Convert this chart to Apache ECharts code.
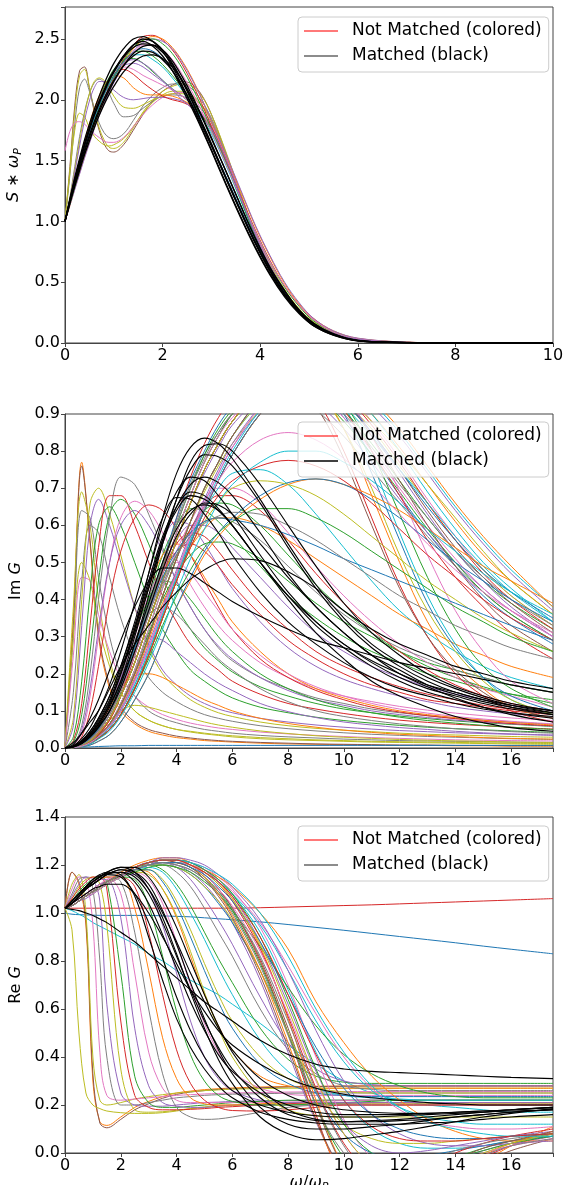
<!DOCTYPE html>
<html><head><meta charset="utf-8">
<script src="https://cdn.jsdelivr.net/npm/echarts/dist/echarts.min.js"></script>
<style>html,body{margin:0;padding:0;background:#fff}#c{width:567px;height:1185px}</style>
</head><body><div id="c"></div>
<script>
const palette = ['#1f77b4','#ff7f0e','#2ca02c','#d62728','#9467bd','#8c564b','#e377c2','#7f7f7f','#bcbd22','#17becf'];

// ---------- Panel 1: S*omega_P ----------
const xS = [0,0.1,0.2,0.3,0.4,0.5,0.6,0.7,0.8,0.9,1.0,1.2,1.4,1.6,1.8,2.0,2.2,2.4,2.6,2.8,3.0,3.3,3.6,3.9,4.2,4.5,4.8,5.1,5.5,6,7,8,10];
const sColored = [
 [1.0,1.45,1.95,2.24,2.27,2.1,1.9,1.75,1.64,1.58,1.57,1.63,1.75,1.88,1.99,2.07,2.12,2.15,2.13,2.04,1.88,1.56,1.22,0.9,0.64,0.43,0.27,0.16,0.08,0.03,0.005,0.001,0],
 [1.0,1.42,1.9,2.2,2.25,2.1,1.92,1.77,1.67,1.61,1.6,1.65,1.77,1.9,2.0,2.07,2.11,2.13,2.11,2.03,1.88,1.57,1.23,0.91,0.65,0.44,0.28,0.17,0.085,0.03,0.005,0.001,0],
 [1.0,1.38,1.8,2.1,2.17,2.07,1.93,1.81,1.73,1.69,1.68,1.72,1.83,1.95,2.04,2.1,2.13,2.13,2.09,1.99,1.85,1.55,1.21,0.9,0.64,0.43,0.27,0.16,0.08,0.03,0.005,0.001,0],
 [1.0,1.4,1.75,1.89,1.86,1.77,1.7,1.66,1.63,1.62,1.63,1.68,1.78,1.89,1.98,2.04,2.07,2.07,2.04,1.96,1.84,1.55,1.22,0.91,0.65,0.44,0.28,0.17,0.08,0.03,0.005,0.001,0],
 [1.58,1.74,1.81,1.82,1.8,1.76,1.72,1.69,1.66,1.65,1.65,1.69,1.78,1.88,1.96,2.02,2.05,2.06,2.03,1.95,1.83,1.54,1.21,0.9,0.64,0.43,0.27,0.16,0.08,0.03,0.005,0.001,0],
 [1.0,1.2,1.45,1.7,1.9,2.05,2.14,2.17,2.14,2.06,1.97,1.86,1.87,1.93,1.99,2.03,2.04,2.03,1.99,1.92,1.81,1.54,1.21,0.9,0.64,0.43,0.27,0.16,0.08,0.03,0.005,0.001,0],
 [1.0,1.19,1.42,1.66,1.88,2.05,2.15,2.18,2.16,2.1,2.03,1.94,1.93,1.96,2.0,2.03,2.05,2.05,2.02,1.95,1.83,1.55,1.22,0.9,0.64,0.43,0.27,0.16,0.08,0.03,0.005,0.001,0],
 [1.0,1.18,1.4,1.62,1.83,1.99,2.1,2.15,2.15,2.12,2.08,2.02,2.0,2.01,2.02,2.02,2.01,1.99,1.95,1.88,1.78,1.52,1.2,0.89,0.63,0.43,0.27,0.16,0.08,0.03,0.005,0.001,0],
 [1.0,1.16,1.33,1.5,1.66,1.8,1.93,2.03,2.12,2.17,2.2,2.18,2.1,2.05,2.04,2.04,2.03,2.0,1.95,1.87,1.77,1.52,1.2,0.89,0.63,0.43,0.27,0.16,0.08,0.03,0.005,0.001,0],
 [1.0,1.16,1.32,1.48,1.63,1.77,1.9,2.01,2.1,2.17,2.22,2.25,2.21,2.14,2.08,2.03,2.0,1.98,1.94,1.87,1.77,1.52,1.2,0.89,0.63,0.43,0.27,0.16,0.08,0.03,0.005,0.001,0],
 [1.0,1.16,1.32,1.47,1.62,1.76,1.89,2.0,2.1,2.18,2.25,2.33,2.34,2.3,2.23,2.16,2.09,2.03,1.96,1.87,1.76,1.5,1.19,0.88,0.63,0.43,0.27,0.16,0.08,0.03,0.005,0.001,0],
 [1.0,1.16,1.32,1.47,1.61,1.74,1.86,1.97,2.07,2.15,2.22,2.32,2.37,2.37,2.33,2.27,2.18,2.08,1.97,1.85,1.72,1.46,1.17,0.88,0.63,0.43,0.27,0.16,0.08,0.03,0.005,0.001,0],
 [1.0,1.15,1.31,1.46,1.6,1.74,1.87,1.98,2.07,2.15,2.21,2.28,2.3,2.27,2.21,2.15,2.09,2.03,1.97,1.89,1.79,1.53,1.21,0.9,0.64,0.43,0.27,0.16,0.08,0.03,0.005,0.001,0],
 [1.0,1.15,1.31,1.46,1.61,1.75,1.88,1.99,2.08,2.16,2.22,2.27,2.25,2.2,2.16,2.12,2.08,2.03,1.97,1.89,1.79,1.53,1.21,0.9,0.64,0.43,0.27,0.16,0.08,0.03,0.005,0.001,0],
 [1.0,1.15,1.3,1.44,1.58,1.71,1.83,1.94,2.04,2.13,2.2,2.32,2.39,2.4,2.36,2.29,2.2,2.1,1.99,1.87,1.74,1.48,1.18,0.88,0.63,0.43,0.27,0.16,0.08,0.03,0.005,0.001,0],
 [1.0,1.14,1.28,1.42,1.55,1.68,1.8,1.91,2.01,2.1,2.18,2.33,2.45,2.52,2.53,2.49,2.41,2.29,2.14,1.97,1.78,1.5,1.21,0.93,0.68,0.47,0.31,0.19,0.09,0.035,0.006,0.001,0],
 [1.0,1.13,1.27,1.4,1.53,1.65,1.77,1.88,1.98,2.07,2.15,2.3,2.42,2.49,2.52,2.5,2.43,2.32,2.18,2.01,1.82,1.54,1.25,0.96,0.71,0.49,0.32,0.2,0.1,0.038,0.007,0.001,0],
 [1.0,1.13,1.26,1.39,1.52,1.64,1.76,1.87,1.97,2.06,2.14,2.28,2.4,2.47,2.5,2.48,2.42,2.31,2.17,2.01,1.83,1.55,1.26,0.97,0.72,0.5,0.33,0.2,0.1,0.04,0.007,0.001,0],
 [1.0,1.14,1.28,1.42,1.55,1.67,1.79,1.9,2.0,2.09,2.17,2.32,2.43,2.49,2.5,2.46,2.38,2.26,2.11,1.94,1.76,1.48,1.19,0.92,0.67,0.46,0.3,0.18,0.09,0.034,0.006,0.001,0],
 [1.0,1.16,1.31,1.46,1.6,1.73,1.85,1.95,2.04,2.12,2.19,2.31,2.39,2.42,2.4,2.34,2.24,2.11,1.96,1.8,1.63,1.37,1.1,0.84,0.61,0.42,0.27,0.16,0.075,0.022,0.003,0,0],
 [1.0,1.15,1.3,1.44,1.57,1.69,1.8,1.91,2.0,2.08,2.16,2.29,2.39,2.45,2.45,2.41,2.33,2.21,2.07,1.91,1.74,1.47,1.19,0.92,0.67,0.47,0.31,0.19,0.09,0.035,0.006,0.001,0],
 [1.0,1.16,1.32,1.47,1.61,1.75,1.88,1.99,2.08,2.16,2.23,2.3,2.33,2.3,2.24,2.16,2.08,2.0,1.93,1.85,1.76,1.51,1.2,0.89,0.63,0.43,0.27,0.16,0.08,0.03,0.005,0.001,0]
];
const sColoredColor = [5,8,7,8,6,7,8,4,1,3,2,9,4,6,2,3,1,4,2,0,6,4];
const sBlack = [
 [1.0,1.17,1.33,1.48,1.62,1.75,1.87,1.97,2.06,2.15,2.23,2.36,2.45,2.5,2.48,2.41,2.3,2.16,2.0,1.82,1.64,1.36,1.09,0.83,0.6,0.41,0.26,0.15,0.07,0.02,0.003,0,0],
 [1.0,1.18,1.35,1.5,1.64,1.77,1.89,1.99,2.08,2.17,2.24,2.36,2.45,2.48,2.44,2.36,2.24,2.09,1.93,1.76,1.58,1.3,1.03,0.78,0.56,0.38,0.24,0.14,0.065,0.018,0.002,0,0],
 [1.0,1.15,1.3,1.44,1.57,1.69,1.8,1.9,1.99,2.07,2.15,2.28,2.38,2.44,2.45,2.41,2.32,2.19,2.04,1.87,1.69,1.41,1.13,0.86,0.62,0.43,0.27,0.16,0.075,0.022,0.003,0,0],
 [1.0,1.16,1.31,1.46,1.59,1.71,1.82,1.92,2.01,2.09,2.16,2.28,2.36,2.4,2.39,2.33,2.24,2.11,1.96,1.79,1.62,1.35,1.08,0.82,0.59,0.4,0.25,0.15,0.07,0.02,0.003,0,0],
 [1.0,1.15,1.29,1.42,1.55,1.66,1.77,1.87,1.96,2.04,2.11,2.23,2.31,2.36,2.37,2.34,2.27,2.16,2.02,1.86,1.68,1.41,1.13,0.86,0.62,0.43,0.27,0.16,0.075,0.022,0.003,0,0],
 [1.0,1.18,1.36,1.52,1.67,1.8,1.92,2.03,2.13,2.22,2.3,2.42,2.5,2.52,2.48,2.4,2.27,2.12,1.95,1.77,1.59,1.31,1.04,0.79,0.57,0.39,0.25,0.14,0.065,0.018,0.002,0,0],
 [1.0,1.17,1.34,1.49,1.63,1.76,1.88,1.98,2.07,2.16,2.23,2.35,2.43,2.46,2.45,2.39,2.29,2.15,1.99,1.81,1.63,1.35,1.08,0.82,0.59,0.4,0.25,0.15,0.07,0.02,0.003,0,0]
];

// ---------- Panel 2: Im G ----------
const xI = [0,0.3,0.6,0.9,1.2,1.6,2,2.5,3,3.5,4,4.5,5,5.5,6,7,8,9,10,11,12,13,14,15,16,17.5];
const imColored = [
 [0,0.35,0.77,0.55,0.3,0.16,0.1,0.065,0.045,0.035,0.028,0.024,0.02,0.018,0.016,0.013,0.011,0.01,0.009,0.008,0.007,0.007,0.006,0.006,0.005,0.005],
 [0,0.33,0.76,0.56,0.31,0.17,0.11,0.07,0.05,0.04,0.032,0.027,0.023,0.02,0.018,0.015,0.013,0.011,0.01,0.009,0.008,0.008,0.007,0.007,0.006,0.006],
 [0,0.38,0.69,0.6,0.4,0.24,0.15,0.1,0.075,0.06,0.05,0.043,0.038,0.034,0.03,0.025,0.022,0.02,0.018,0.016,0.015,0.014,0.013,0.012,0.011,0.01],
 [0,0.3,0.64,0.62,0.46,0.3,0.2,0.14,0.1,0.08,0.068,0.058,0.05,0.045,0.04,0.034,0.03,0.027,0.024,0.022,0.02,0.019,0.018,0.017,0.016,0.015],
 [0,0.3,0.5,0.45,0.33,0.22,0.15,0.1,0.075,0.06,0.05,0.045,0.04,0.036,0.033,0.028,0.025,0.022,0.02,0.018,0.017,0.016,0.015,0.014,0.013,0.012],
 [0,0.25,0.46,0.45,0.36,0.26,0.19,0.14,0.11,0.09,0.077,0.067,0.06,0.054,0.05,0.043,0.038,0.034,0.031,0.028,0.026,0.024,0.022,0.021,0.02,0.019],
 [0,0.15,0.45,0.6,0.58,0.46,0.35,0.25,0.19,0.15,0.125,0.105,0.09,0.08,0.072,0.06,0.052,0.046,0.041,0.037,0.034,0.031,0.029,0.027,0.025,0.023],
 [0,0.08,0.4,0.66,0.7,0.63,0.52,0.38,0.27,0.2,0.16,0.13,0.11,0.095,0.085,0.07,0.06,0.053,0.048,0.044,0.04,0.037,0.035,0.033,0.031,0.029],
 [0,0.06,0.33,0.6,0.67,0.6,0.5,0.38,0.28,0.21,0.17,0.14,0.12,0.105,0.095,0.08,0.07,0.062,0.056,0.051,0.047,0.044,0.041,0.039,0.037,0.034],
 [0,0.03,0.18,0.42,0.6,0.65,0.6,0.5,0.4,0.32,0.26,0.21,0.18,0.155,0.135,0.11,0.095,0.083,0.074,0.067,0.061,0.056,0.052,0.049,0.046,0.042],
 [0,0.02,0.12,0.33,0.54,0.68,0.68,0.6,0.5,0.41,0.34,0.28,0.24,0.21,0.18,0.145,0.12,0.105,0.093,0.083,0.075,0.069,0.064,0.06,0.056,0.051],
 [0,0.015,0.09,0.26,0.45,0.63,0.67,0.63,0.55,0.46,0.38,0.32,0.27,0.235,0.205,0.165,0.14,0.12,0.105,0.095,0.086,0.079,0.073,0.068,0.064,0.058],
 [0,0.01,0.06,0.2,0.4,0.62,0.73,0.71,0.63,0.54,0.45,0.38,0.32,0.27,0.235,0.19,0.16,0.135,0.12,0.105,0.095,0.087,0.08,0.075,0.07,0.064],
 [0,0.008,0.04,0.14,0.3,0.5,0.62,0.665,0.64,0.58,0.51,0.44,0.38,0.33,0.29,0.23,0.19,0.16,0.14,0.125,0.112,0.102,0.094,0.087,0.081,0.074],
 [0,0.01,0.05,0.16,0.32,0.5,0.6,0.64,0.6,0.53,0.45,0.38,0.32,0.275,0.24,0.19,0.155,0.13,0.115,0.1,0.09,0.082,0.075,0.07,0.065,0.059],
 [0,0.005,0.03,0.1,0.22,0.4,0.53,0.62,0.655,0.64,0.59,0.52,0.45,0.38,0.32,0.24,0.19,0.155,0.13,0.11,0.097,0.087,0.079,0.072,0.066,0.06],
 [0,0.001,0.005,0.015,0.035,0.08,0.15,0.27,0.4,0.52,0.6,0.645,0.64,0.61,0.57,0.49,0.41,0.35,0.3,0.26,0.23,0.2,0.18,0.16,0.145,0.13],
 [0,0.002,0.008,0.02,0.045,0.1,0.18,0.31,0.45,0.56,0.61,0.6,0.55,0.49,0.43,0.34,0.27,0.22,0.185,0.16,0.14,0.125,0.11,0.1,0.092,0.083],
 [0,0.002,0.01,0.025,0.055,0.11,0.2,0.32,0.43,0.52,0.55,0.52,0.46,0.4,0.34,0.26,0.2,0.16,0.135,0.115,0.1,0.09,0.082,0.075,0.069,0.062],
 [0,0.001,0.006,0.016,0.036,0.075,0.14,0.25,0.37,0.47,0.55,0.58,0.57,0.53,0.48,0.39,0.32,0.26,0.22,0.19,0.165,0.145,0.13,0.115,0.105,0.095],
 [0,0.002,0.01,0.026,0.055,0.11,0.19,0.3,0.41,0.48,0.5,0.47,0.42,0.37,0.32,0.25,0.2,0.165,0.14,0.12,0.105,0.094,0.085,0.078,0.072,0.065],
 [0,0.002,0.011,0.028,0.058,0.115,0.2,0.31,0.4,0.45,0.44,0.4,0.35,0.3,0.26,0.2,0.16,0.13,0.11,0.095,0.083,0.074,0.067,0.061,0.056,0.05],
 [0,0.002,0.011,0.028,0.058,0.115,0.19,0.29,0.36,0.38,0.36,0.32,0.28,0.24,0.21,0.16,0.125,0.1,0.085,0.074,0.065,0.058,0.052,0.048,0.044,0.04],
 [0,0.002,0.012,0.03,0.06,0.12,0.19,0.26,0.3,0.29,0.26,0.23,0.2,0.175,0.155,0.12,0.098,0.082,0.07,0.062,0.055,0.05,0.045,0.041,0.038,0.035],
 [0,0.002,0.012,0.03,0.06,0.11,0.16,0.195,0.2,0.19,0.17,0.15,0.13,0.115,0.1,0.08,0.066,0.056,0.048,0.042,0.037,0.034,0.031,0.028,0.026,0.024],
 [0,0.002,0.01,0.025,0.045,0.075,0.1,0.115,0.11,0.1,0.09,0.08,0.07,0.062,0.056,0.046,0.039,0.033,0.029,0.026,0.023,0.021,0.019,0.018,0.016,0.015],
 [0,0.001,0.002,0.003,0.004,0.005,0.006,0.006,0.007,0.007,0.007,0.007,0.007,0.007,0.007,0.007,0.007,0.007,0.007,0.007,0.007,0.007,0.007,0.007,0.007,0.007],
 [0,0.001,0.005,0.014,0.03,0.065,0.12,0.21,0.31,0.4,0.47,0.52,0.55,0.555,0.55,0.51,0.45,0.39,0.34,0.3,0.26,0.23,0.21,0.19,0.17,0.15],
 [0,0.001,0.006,0.016,0.035,0.075,0.14,0.25,0.37,0.47,0.53,0.55,0.53,0.49,0.44,0.36,0.29,0.24,0.2,0.17,0.15,0.13,0.12,0.11,0.1,0.09],
 [0,0.001,0.005,0.014,0.03,0.065,0.12,0.21,0.32,0.43,0.52,0.59,0.64,0.66,0.655,0.6,0.52,0.44,0.37,0.31,0.26,0.22,0.19,0.165,0.145,0.12],
 [0,0.001,0.005,0.014,0.03,0.065,0.12,0.21,0.32,0.43,0.53,0.61,0.67,0.7,0.7,0.66,0.58,0.49,0.41,0.34,0.28,0.23,0.19,0.16,0.14,0.11],
 [0,0.002,0.008,0.02,0.04,0.08,0.14,0.23,0.34,0.44,0.52,0.58,0.61,0.62,0.61,0.56,0.49,0.42,0.36,0.31,0.27,0.24,0.21,0.19,0.17,0.15],
 [0,0.002,0.009,0.022,0.045,0.09,0.16,0.27,0.39,0.49,0.56,0.6,0.6,0.58,0.54,0.46,0.38,0.31,0.26,0.22,0.19,0.165,0.145,0.13,0.115,0.1],
 [0,0.001,0.006,0.016,0.033,0.065,0.115,0.2,0.3,0.41,0.51,0.59,0.65,0.68,0.68,0.64,0.56,0.47,0.39,0.32,0.26,0.21,0.17,0.14,0.12,0.1],
 [0,0.001,0.005,0.013,0.028,0.055,0.1,0.17,0.26,0.36,0.46,0.56,0.64,0.7,0.74,0.75,0.71,0.63,0.54,0.45,0.37,0.31,0.26,0.22,0.19,0.16],
 [0,0.001,0.005,0.014,0.03,0.06,0.11,0.19,0.29,0.39,0.47,0.54,0.59,0.62,0.62,0.6,0.56,0.51,0.46,0.41,0.36,0.32,0.28,0.25,0.22,0.19],
 [0,0.002,0.01,0.025,0.05,0.1,0.17,0.27,0.37,0.48,0.62,0.73,0.82,0.89,0.94,0.99,1.0,0.94,0.8,0.62,0.44,0.3,0.2,0.14,0.1,0.07],
 [0,0.002,0.008,0.02,0.04,0.08,0.14,0.23,0.34,0.45,0.56,0.66,0.75,0.82,0.88,0.96,1.0,0.97,0.86,0.68,0.5,0.34,0.23,0.16,0.11,0.08],
 [0,0.001,0.006,0.016,0.033,0.065,0.115,0.2,0.3,0.41,0.51,0.61,0.7,0.77,0.84,0.93,0.99,0.99,0.92,0.77,0.58,0.41,0.28,0.19,0.13,0.09],
 [0,0.002,0.009,0.022,0.045,0.09,0.155,0.25,0.36,0.47,0.58,0.68,0.77,0.84,0.9,0.97,0.99,0.92,0.78,0.6,0.43,0.3,0.21,0.15,0.11,0.08],
 [0,0.002,0.01,0.026,0.052,0.1,0.17,0.28,0.39,0.5,0.62,0.72,0.8,0.87,0.92,0.98,0.99,0.96,0.89,0.79,0.68,0.58,0.49,0.41,0.35,0.28],
 [0,0.002,0.008,0.02,0.04,0.08,0.14,0.23,0.34,0.45,0.56,0.66,0.75,0.82,0.88,0.96,0.99,0.97,0.91,0.82,0.72,0.62,0.53,0.45,0.39,0.32],
 [0,0.001,0.006,0.016,0.033,0.065,0.115,0.2,0.3,0.41,0.51,0.61,0.7,0.77,0.84,0.94,1.0,1.0,0.96,0.88,0.78,0.67,0.57,0.48,0.41,0.33],
 [0,0.002,0.008,0.02,0.04,0.08,0.14,0.23,0.34,0.45,0.56,0.66,0.74,0.81,0.87,0.94,0.96,0.93,0.86,0.77,0.67,0.58,0.5,0.43,0.37,0.3],
 [0,0.002,0.01,0.025,0.05,0.1,0.17,0.28,0.39,0.5,0.61,0.71,0.79,0.85,0.9,0.95,0.95,0.91,0.84,0.75,0.66,0.57,0.49,0.42,0.36,0.29],
 [0,0.001,0.006,0.016,0.033,0.065,0.115,0.2,0.3,0.41,0.51,0.61,0.69,0.76,0.82,0.91,0.96,0.97,0.93,0.86,0.76,0.66,0.56,0.48,0.41,0.33],
 [0,0.001,0.004,0.012,0.026,0.05,0.09,0.16,0.25,0.35,0.45,0.55,0.64,0.72,0.79,0.9,0.97,1.0,0.98,0.93,0.85,0.75,0.65,0.56,0.48,0.38],
 [0,0.001,0.004,0.012,0.026,0.05,0.09,0.16,0.25,0.35,0.45,0.55,0.64,0.72,0.79,0.9,0.97,0.99,0.95,0.87,0.77,0.66,0.56,0.47,0.4,0.32],
 [0,0.002,0.008,0.02,0.04,0.08,0.14,0.23,0.34,0.45,0.56,0.66,0.75,0.82,0.88,0.97,1.01,1.01,0.97,0.9,0.81,0.71,0.61,0.52,0.45,0.36],
 [0,0.001,0.006,0.016,0.033,0.065,0.115,0.2,0.3,0.41,0.51,0.61,0.7,0.77,0.84,0.94,1.0,0.98,0.9,0.74,0.56,0.39,0.27,0.19,0.14,0.1],
 [0,0.002,0.01,0.025,0.05,0.1,0.17,0.27,0.38,0.49,0.6,0.7,0.79,0.86,0.91,0.97,0.98,0.95,0.88,0.79,0.69,0.59,0.5,0.42,0.36,0.29],
 [0,0.001,0.005,0.014,0.03,0.058,0.1,0.18,0.27,0.37,0.47,0.57,0.66,0.74,0.81,0.91,0.98,1.0,0.98,0.92,0.84,0.74,0.64,0.55,0.47,0.37],
 [0,0.001,0.005,0.014,0.03,0.058,0.1,0.18,0.27,0.37,0.47,0.57,0.66,0.74,0.81,0.92,0.99,1.0,0.95,0.84,0.69,0.52,0.37,0.26,0.18,0.12],
 [0,0.002,0.008,0.02,0.04,0.08,0.14,0.23,0.34,0.45,0.56,0.66,0.75,0.82,0.88,0.96,0.99,0.98,0.93,0.85,0.75,0.64,0.54,0.46,0.39,0.31],
 [0,0.001,0.006,0.016,0.033,0.065,0.115,0.2,0.3,0.41,0.51,0.61,0.7,0.77,0.84,0.93,0.98,0.96,0.86,0.7,0.52,0.37,0.26,0.18,0.13,0.09],
 [0,0.002,0.008,0.02,0.04,0.08,0.14,0.23,0.34,0.45,0.56,0.66,0.75,0.82,0.88,0.96,0.99,0.97,0.92,0.84,0.75,0.66,0.57,0.49,0.42,0.34],
 [0,0.002,0.009,0.022,0.045,0.09,0.155,0.25,0.36,0.47,0.58,0.68,0.77,0.84,0.9,0.98,1.02,1.0,0.93,0.8,0.63,0.46,0.32,0.22,0.16,0.11],
 [0,0.001,0.005,0.014,0.03,0.06,0.105,0.185,0.28,0.38,0.48,0.58,0.67,0.75,0.82,0.92,0.98,0.99,0.94,0.85,0.74,0.63,0.53,0.45,0.38,0.3],
 [0,0.002,0.008,0.02,0.04,0.08,0.14,0.23,0.34,0.45,0.56,0.66,0.75,0.82,0.88,0.97,1.0,0.98,0.91,0.8,0.68,0.56,0.46,0.38,0.31,0.24],
 [0,0.001,0.004,0.012,0.026,0.05,0.09,0.16,0.25,0.35,0.45,0.55,0.64,0.72,0.79,0.9,0.97,1.01,1.0,0.94,0.86,0.76,0.66,0.57,0.49,0.38],
 [0,0.001,0.005,0.013,0.028,0.055,0.1,0.17,0.26,0.36,0.46,0.56,0.65,0.73,0.8,0.91,0.98,1.0,0.97,0.9,0.8,0.69,0.59,0.5,0.43,0.34],
 [0,0.002,0.009,0.022,0.045,0.09,0.155,0.25,0.36,0.47,0.58,0.68,0.77,0.84,0.89,0.96,0.98,0.95,0.89,0.8,0.7,0.6,0.51,0.43,0.37,0.3],
 [0,0.001,0.006,0.016,0.033,0.065,0.115,0.2,0.3,0.41,0.51,0.61,0.7,0.77,0.84,0.94,0.99,0.99,0.94,0.84,0.72,0.6,0.49,0.4,0.33,0.26],
 [0,0.001,0.004,0.012,0.026,0.05,0.09,0.16,0.25,0.35,0.45,0.55,0.64,0.72,0.79,0.9,0.96,0.97,0.93,0.85,0.75,0.65,0.56,0.48,0.42,0.35],
 [0,0.002,0.008,0.02,0.04,0.08,0.14,0.23,0.34,0.45,0.56,0.66,0.75,0.82,0.88,0.96,1.0,0.99,0.95,0.88,0.8,0.71,0.62,0.53,0.45,0.36],
 [0,0.002,0.01,0.025,0.05,0.1,0.17,0.27,0.38,0.49,0.6,0.7,0.78,0.85,0.9,0.97,0.99,0.96,0.9,0.81,0.71,0.62,0.53,0.46,0.4,0.33],
 [0,0.001,0.003,0.008,0.018,0.036,0.07,0.13,0.2,0.29,0.38,0.45,0.52,0.57,0.61,0.67,0.71,0.725,0.71,0.68,0.64,0.59,0.54,0.49,0.45,0.39],
 [0,0.001,0.003,0.008,0.018,0.036,0.07,0.13,0.2,0.29,0.38,0.46,0.53,0.58,0.62,0.68,0.715,0.725,0.71,0.67,0.62,0.56,0.5,0.45,0.4,0.34],
 [0,0.001,0.004,0.012,0.026,0.05,0.09,0.16,0.25,0.35,0.45,0.54,0.61,0.66,0.7,0.72,0.71,0.68,0.63,0.57,0.51,0.45,0.4,0.35,0.31,0.26],
 [0,0.001,0.004,0.012,0.026,0.05,0.09,0.16,0.24,0.33,0.41,0.48,0.54,0.58,0.61,0.645,0.645,0.62,0.58,0.53,0.48,0.43,0.38,0.34,0.3,0.26],
 [0,0.001,0.004,0.012,0.026,0.05,0.09,0.16,0.25,0.35,0.45,0.54,0.62,0.68,0.72,0.76,0.775,0.76,0.72,0.66,0.59,0.52,0.46,0.4,0.35,0.29],
 [0,0.001,0.004,0.011,0.024,0.046,0.085,0.15,0.23,0.32,0.42,0.51,0.59,0.66,0.71,0.77,0.8,0.8,0.77,0.72,0.66,0.59,0.53,0.47,0.42,0.36],
 [0,0.002,0.01,0.026,0.052,0.1,0.17,0.27,0.37,0.46,0.53,0.58,0.61,0.62,0.615,0.6,0.575,0.545,0.51,0.48,0.45,0.42,0.39,0.36,0.33,0.29],
 [0,0.001,0.005,0.014,0.03,0.058,0.1,0.18,0.27,0.37,0.47,0.57,0.65,0.72,0.77,0.83,0.85,0.83,0.78,0.71,0.63,0.55,0.48,0.42,0.37,0.31],
 [0,0.002,0.009,0.023,0.047,0.09,0.16,0.26,0.36,0.45,0.52,0.57,0.605,0.625,0.635,0.63,0.6,0.56,0.51,0.46,0.41,0.37,0.33,0.3,0.27,0.24]
];
const imColoredColor = [1,5,8,7,8,6,7,8,4,2,3,2,7,6,4,3, 2,4,1,3,6,2,7,4,1,8,0,2,3, 2,6,7,4,3,9,1,
  3,1,9,5,0,2,6,4,7,8,9,3,1,0,2,4,6,5,8,9, 2,4,3,1,9,6,5,0,8,7,
  1,0,8,2,3,9,0,6,7];
const imBlack = [
 [0,0.004,0.015,0.035,0.065,0.12,0.2,0.32,0.47,0.62,0.74,0.81,0.835,0.82,0.78,0.67,0.55,0.44,0.35,0.28,0.23,0.19,0.16,0.135,0.115,0.095],
 [0,0.003,0.012,0.03,0.057,0.1,0.17,0.28,0.41,0.55,0.67,0.77,0.815,0.82,0.8,0.71,0.6,0.49,0.39,0.31,0.25,0.2,0.165,0.14,0.12,0.1],
 [0,0.003,0.013,0.032,0.06,0.11,0.18,0.3,0.43,0.56,0.67,0.75,0.79,0.785,0.76,0.66,0.54,0.43,0.34,0.27,0.22,0.18,0.15,0.13,0.11,0.09],
 [0,0.005,0.02,0.045,0.08,0.14,0.22,0.34,0.47,0.6,0.69,0.73,0.72,0.68,0.63,0.52,0.42,0.34,0.28,0.23,0.19,0.16,0.14,0.12,0.105,0.09],
 [0,0.004,0.016,0.038,0.07,0.125,0.2,0.31,0.43,0.55,0.65,0.71,0.73,0.715,0.68,0.58,0.47,0.38,0.31,0.25,0.21,0.17,0.145,0.125,0.11,0.095],
 [0,0.005,0.02,0.045,0.08,0.14,0.22,0.33,0.45,0.57,0.65,0.69,0.68,0.645,0.6,0.5,0.41,0.34,0.28,0.235,0.2,0.17,0.15,0.13,0.115,0.1],
 [0,0.006,0.025,0.055,0.1,0.17,0.26,0.39,0.52,0.62,0.675,0.67,0.63,0.58,0.52,0.42,0.34,0.28,0.23,0.19,0.16,0.14,0.12,0.105,0.095,0.085],
 [0,0.004,0.018,0.04,0.075,0.13,0.21,0.32,0.44,0.56,0.64,0.68,0.67,0.64,0.6,0.5,0.41,0.33,0.27,0.22,0.18,0.15,0.13,0.11,0.095,0.08],
 [0,0.003,0.012,0.03,0.055,0.1,0.16,0.26,0.37,0.48,0.57,0.63,0.66,0.655,0.63,0.55,0.46,0.38,0.31,0.25,0.2,0.165,0.135,0.11,0.09,0.07],
 [0,0.004,0.015,0.035,0.065,0.115,0.18,0.28,0.39,0.5,0.59,0.64,0.655,0.64,0.6,0.5,0.4,0.31,0.24,0.18,0.14,0.11,0.085,0.068,0.055,0.045],
 [0,0.01,0.04,0.08,0.13,0.21,0.29,0.38,0.45,0.485,0.485,0.47,0.445,0.42,0.395,0.355,0.32,0.29,0.27,0.25,0.23,0.215,0.2,0.185,0.17,0.15],
 [0,0.015,0.04,0.07,0.1,0.16,0.22,0.28,0.33,0.38,0.42,0.455,0.48,0.5,0.51,0.505,0.475,0.43,0.37,0.32,0.28,0.25,0.22,0.2,0.18,0.16]
];

// ---------- Panel 3: Re G ----------
const xR = [0,0.25,0.5,0.75,1,1.25,1.5,2,2.5,3,3.5,4,4.5,5,5.5,6,7,8,9,10,11,12,13,14,15,16,17.5];
const reColored = [
 [1.02,1.02,1.02,1.02,1.02,1.02,1.02,1.02,1.02,1.02,1.02,1.02,1.02,1.02,1.02,1.02,1.022,1.025,1.028,1.031,1.034,1.038,1.042,1.046,1.05,1.054,1.06],
 [1.0,0.995,0.993,0.992,0.991,0.99,0.99,0.99,0.99,0.99,0.988,0.986,0.984,0.98,0.976,0.972,0.963,0.952,0.94,0.928,0.915,0.902,0.889,0.876,0.862,0.849,0.83],
 [1.02,1.01,0.995,0.98,0.96,0.945,0.93,0.9,0.87,0.83,0.8,0.76,0.72,0.69,0.66,0.62,0.54,0.45,0.37,0.3,0.25,0.22,0.2,0.19,0.18,0.17,0.17],
 [1.02,1.17,1.12,0.95,0.3,0.13,0.115,0.15,0.19,0.215,0.235,0.25,0.258,0.264,0.268,0.271,0.275,0.277,0.278,0.279,0.28,0.28,0.28,0.28,0.28,0.28,0.28],
 [1.02,1.17,1.13,0.97,0.33,0.125,0.105,0.14,0.18,0.205,0.228,0.244,0.254,0.26,0.265,0.268,0.272,0.275,0.277,0.278,0.279,0.279,0.279,0.279,0.279,0.279,0.279],
 [1.02,0.93,0.5,0.25,0.2,0.185,0.175,0.168,0.165,0.165,0.168,0.175,0.185,0.192,0.198,0.2,0.203,0.205,0.205,0.205,0.205,0.205,0.205,0.205,0.205,0.205,0.205],
 [1.02,1.12,1.16,1.0,0.4,0.22,0.2,0.21,0.225,0.235,0.243,0.25,0.255,0.26,0.263,0.266,0.268,0.27,0.27,0.27,0.27,0.27,0.27,0.27,0.27,0.27,0.27],
 [1.02,1.1,1.15,1.14,0.95,0.42,0.24,0.22,0.225,0.23,0.235,0.24,0.243,0.246,0.248,0.25,0.252,0.254,0.255,0.256,0.256,0.256,0.256,0.256,0.256,0.256,0.256],
 [1.02,1.08,1.14,1.15,1.1,0.8,0.4,0.2,0.2,0.21,0.22,0.23,0.235,0.24,0.243,0.245,0.247,0.249,0.25,0.25,0.25,0.25,0.25,0.25,0.25,0.25,0.25],
 [1.02,1.07,1.12,1.15,1.14,1.05,0.62,0.25,0.2,0.195,0.195,0.2,0.205,0.21,0.212,0.215,0.217,0.218,0.219,0.22,0.22,0.22,0.22,0.22,0.22,0.22,0.22],
 [1.02,1.06,1.11,1.14,1.15,1.12,0.95,0.35,0.18,0.17,0.172,0.178,0.185,0.19,0.195,0.198,0.2,0.2,0.2,0.2,0.2,0.2,0.2,0.2,0.2,0.2,0.2],
 [1.02,1.06,1.1,1.13,1.15,1.15,1.1,0.55,0.24,0.19,0.18,0.18,0.182,0.185,0.19,0.193,0.2,0.205,0.21,0.21,0.21,0.21,0.21,0.21,0.21,0.21,0.21],
 [1.02,1.05,1.09,1.12,1.14,1.15,1.13,0.75,0.32,0.21,0.19,0.19,0.195,0.2,0.205,0.21,0.215,0.22,0.22,0.22,0.22,0.22,0.22,0.22,0.22,0.22,0.22],
 [1.02,1.05,1.08,1.11,1.13,1.14,1.14,0.98,0.52,0.28,0.21,0.195,0.19,0.19,0.195,0.2,0.2,0.2,0.2,0.2,0.2,0.2,0.2,0.2,0.2,0.2,0.2],
 [1.02,1.05,1.08,1.11,1.13,1.14,1.15,1.08,0.75,0.42,0.27,0.22,0.21,0.21,0.21,0.21,0.21,0.212,0.215,0.218,0.22,0.22,0.22,0.22,0.22,0.22,0.22],
 [1.02,1.04,1.07,1.1,1.12,1.14,1.15,1.13,0.92,0.6,0.33,0.19,0.15,0.14,0.142,0.15,0.17,0.19,0.2,0.205,0.21,0.21,0.21,0.21,0.21,0.21,0.21],
 [1.02,1.04,1.07,1.1,1.12,1.14,1.15,1.15,1.02,0.76,0.48,0.31,0.23,0.205,0.2,0.2,0.205,0.21,0.21,0.21,0.21,0.21,0.21,0.21,0.21,0.21,0.21],
 [1.02,1.04,1.06,1.08,1.1,1.12,1.13,1.15,1.11,0.92,0.66,0.43,0.29,0.22,0.19,0.177,0.175,0.18,0.19,0.2,0.2,0.2,0.2,0.2,0.2,0.2,0.2],
 [1.02,1.04,1.06,1.08,1.1,1.12,1.13,1.15,1.14,1.03,0.82,0.59,0.41,0.3,0.24,0.215,0.2,0.2,0.205,0.21,0.215,0.22,0.22,0.22,0.22,0.22,0.22],
 [1.02,1.04,1.06,1.08,1.1,1.12,1.13,1.16,1.16,1.1,0.95,0.75,0.55,0.4,0.31,0.26,0.22,0.21,0.21,0.21,0.21,0.21,0.21,0.21,0.21,0.21,0.21],
 [1.02,1.04,1.06,1.08,1.1,1.12,1.14,1.16,1.17,1.14,1.04,0.88,0.7,0.54,0.42,0.34,0.27,0.245,0.24,0.24,0.24,0.24,0.24,0.24,0.24,0.24,0.24],
 [1.02,1.03,1.05,1.07,1.09,1.11,1.13,1.16,1.18,1.17,1.1,0.98,0.82,0.66,0.53,0.43,0.32,0.28,0.27,0.27,0.27,0.27,0.27,0.27,0.27,0.27,0.27],
 [1.02,1.03,1.05,1.07,1.09,1.11,1.13,1.16,1.18,1.18,1.14,1.05,0.93,0.79,0.66,0.55,0.4,0.31,0.27,0.255,0.25,0.25,0.25,0.25,0.25,0.25,0.25],
 [1.02,1.03,1.05,1.07,1.09,1.11,1.13,1.16,1.19,1.2,1.18,1.12,1.03,0.92,0.81,0.71,0.52,0.39,0.32,0.295,0.29,0.29,0.29,0.29,0.29,0.29,0.29],
 [1.02,1.03,1.05,1.07,1.09,1.11,1.13,1.16,1.18,1.2,1.2,1.17,1.11,1.02,0.92,0.82,0.6,0.43,0.33,0.28,0.265,0.26,0.26,0.26,0.26,0.26,0.26],
 [1.02,1.03,1.05,1.07,1.09,1.11,1.13,1.16,1.17,1.16,1.1,0.99,0.84,0.67,0.52,0.4,0.25,0.18,0.155,0.15,0.15,0.15,0.15,0.15,0.15,0.15,0.15],
 [1.02,1.03,1.05,1.07,1.09,1.11,1.13,1.16,1.18,1.19,1.17,1.1,1.0,0.89,0.77,0.66,0.47,0.34,0.27,0.24,0.23,0.225,0.22,0.22,0.22,0.22,0.22],
 [1.02,1.03,1.05,1.07,1.09,1.11,1.13,1.16,1.18,1.18,1.13,1.03,0.9,0.76,0.63,0.52,0.37,0.29,0.25,0.24,0.235,0.235,0.235,0.235,0.235,0.235,0.235],
 [1.02,1.03,1.05,1.07,1.09,1.11,1.13,1.16,1.19,1.21,1.21,1.19,1.14,1.06,0.97,0.87,0.65,0.46,0.35,0.3,0.285,0.28,0.28,0.28,0.28,0.28,0.28],
 [1.02,1.03,1.05,1.07,1.09,1.11,1.13,1.16,1.19,1.21,1.22,1.22,1.2,1.16,1.1,1.02,0.8,0.5,0.16,-0.12,-0.22,-0.22,-0.16,-0.08,-0.02,0.03,0.08],
 [1.02,1.03,1.05,1.07,1.09,1.11,1.13,1.17,1.2,1.22,1.23,1.23,1.21,1.18,1.13,1.06,0.86,0.56,0.22,-0.06,-0.2,-0.24,-0.2,-0.12,-0.04,0.03,0.11],
 [1.02,1.03,1.05,1.07,1.09,1.1,1.12,1.15,1.18,1.2,1.21,1.21,1.19,1.15,1.09,1.01,0.79,0.5,0.2,-0.02,-0.12,-0.12,-0.07,-0.02,0.02,0.05,0.08],
 [1.02,1.03,1.05,1.06,1.08,1.1,1.12,1.15,1.18,1.2,1.21,1.2,1.17,1.12,1.05,0.96,0.72,0.42,0.13,-0.08,-0.15,-0.14,-0.09,-0.03,0.01,0.04,0.07],
 [1.02,1.03,1.05,1.07,1.09,1.11,1.13,1.16,1.19,1.21,1.22,1.22,1.21,1.18,1.14,1.08,0.92,0.68,0.42,0.22,0.1,0.04,0.02,0.02,0.03,0.05,0.07],
 [1.02,1.03,1.05,1.07,1.09,1.11,1.13,1.16,1.19,1.21,1.22,1.22,1.21,1.19,1.15,1.1,0.94,0.7,0.4,0.14,-0.02,-0.08,-0.08,-0.05,-0.01,0.03,0.07],
 [1.02,1.03,1.05,1.07,1.09,1.11,1.13,1.16,1.18,1.2,1.2,1.19,1.16,1.11,1.04,0.96,0.76,0.5,0.25,0.08,0.0,-0.02,-0.01,0.01,0.03,0.05,0.07],
 [1.02,1.03,1.05,1.07,1.09,1.11,1.13,1.16,1.19,1.21,1.22,1.22,1.2,1.16,1.1,1.02,0.81,0.52,0.2,-0.06,-0.18,-0.2,-0.16,-0.1,-0.04,0.01,0.06],
 [1.02,1.03,1.05,1.07,1.09,1.1,1.12,1.15,1.18,1.2,1.2,1.19,1.16,1.11,1.05,0.97,0.76,0.5,0.26,0.12,0.06,0.04,0.04,0.05,0.06,0.07,0.08],
 [1.02,1.03,1.05,1.07,1.08,1.1,1.12,1.15,1.18,1.2,1.21,1.21,1.2,1.18,1.15,1.11,1.0,0.85,0.63,0.46,0.32,0.22,0.14,0.09,0.06,0.05,0.05],
 [1.02,1.03,1.05,1.07,1.08,1.1,1.12,1.15,1.18,1.2,1.21,1.21,1.2,1.17,1.13,1.08,0.95,0.76,0.55,0.38,0.26,0.19,0.15,0.13,0.12,0.12,0.12],
 [1.02,1.03,1.05,1.07,1.09,1.1,1.12,1.15,1.17,1.19,1.2,1.19,1.17,1.13,1.08,1.01,0.86,0.69,0.53,0.41,0.33,0.28,0.25,0.235,0.23,0.23,0.23],
 [1.02,1.03,1.05,1.07,1.09,1.11,1.13,1.16,1.19,1.21,1.22,1.22,1.2,1.17,1.12,1.05,0.85,0.57,0.27,0.04,-0.08,-0.1,-0.06,0.0,0.04,0.07,0.1],
 [1.02,1.03,1.05,1.07,1.09,1.1,1.12,1.15,1.18,1.2,1.21,1.2,1.18,1.14,1.08,1.0,0.78,0.49,0.2,0.0,-0.08,-0.07,-0.03,0.01,0.04,0.06,0.08],
 [1.02,1.03,1.05,1.07,1.09,1.11,1.13,1.16,1.19,1.21,1.22,1.22,1.21,1.18,1.13,1.07,0.88,0.62,0.34,0.13,0.03,0.0,0.01,0.03,0.05,0.07,0.09],
 [1.02,1.03,1.05,1.07,1.08,1.1,1.12,1.15,1.18,1.2,1.21,1.21,1.2,1.18,1.14,1.09,0.96,0.78,0.58,0.4,0.27,0.18,0.13,0.11,0.1,0.1,0.11],
 [1.02,1.03,1.05,1.07,1.09,1.11,1.13,1.16,1.19,1.21,1.22,1.21,1.19,1.15,1.08,0.99,0.76,0.46,0.14,-0.1,-0.2,-0.2,-0.14,-0.07,-0.01,0.04,0.09],
 [1.02,1.03,1.05,1.07,1.09,1.11,1.13,1.16,1.19,1.21,1.22,1.22,1.21,1.18,1.14,1.08,0.9,0.64,0.35,0.12,0.0,-0.05,-0.05,-0.02,0.01,0.04,0.07],
 [1.02,1.03,1.05,1.07,1.09,1.11,1.13,1.16,1.19,1.21,1.23,1.23,1.22,1.2,1.16,1.11,0.97,0.76,0.51,0.3,0.16,0.08,0.04,0.03,0.03,0.04,0.05],
 [1.02,1.03,1.05,1.07,1.09,1.11,1.13,1.16,1.19,1.21,1.22,1.22,1.2,1.16,1.1,1.03,0.84,0.58,0.3,0.08,-0.05,-0.09,-0.08,-0.04,0.0,0.03,0.06],
 [1.02,1.03,1.05,1.07,1.09,1.11,1.13,1.16,1.19,1.21,1.22,1.21,1.19,1.14,1.07,0.98,0.74,0.44,0.14,-0.08,-0.16,-0.15,-0.09,-0.03,0.02,0.05,0.09],
 [1.02,1.03,1.05,1.07,1.09,1.11,1.13,1.16,1.18,1.2,1.21,1.21,1.19,1.16,1.11,1.05,0.88,0.66,0.44,0.27,0.16,0.1,0.07,0.06,0.06,0.07,0.08],
 [1.02,1.03,1.05,1.07,1.09,1.11,1.13,1.16,1.19,1.21,1.22,1.22,1.2,1.17,1.12,1.06,0.87,0.6,0.31,0.08,-0.05,-0.1,-0.08,-0.04,0.0,0.04,0.08],
 [1.02,1.03,1.05,1.07,1.09,1.11,1.13,1.16,1.19,1.21,1.22,1.22,1.21,1.19,1.16,1.12,1.0,0.82,0.6,0.42,0.28,0.19,0.13,0.1,0.08,0.07,0.07],
 [1.02,1.03,1.05,1.07,1.09,1.11,1.13,1.16,1.19,1.21,1.22,1.22,1.2,1.17,1.13,1.07,0.9,0.66,0.41,0.22,0.11,0.06,0.05,0.05,0.06,0.07,0.08],
 [1.02,1.03,1.05,1.07,1.09,1.11,1.13,1.16,1.18,1.2,1.21,1.2,1.18,1.14,1.09,1.02,0.82,0.55,0.26,0.03,-0.1,-0.13,-0.1,-0.05,-0.01,0.03,0.06]
];
const reColoredColor = [3,0,9, 1,5,8,8,6,7,4,8,3,2,4,6,7,1,3,2,4,6,1,8,2,7,8, 9,0,4,
  3,1,2,4,9,6,0,5,8,1,9,2,3,7,4,6, 1,2,4,6,5,0,8,9,3,7];
const reBlack = [
 [1.02,1.04,1.07,1.1,1.13,1.15,1.17,1.19,1.17,1.1,0.98,0.83,0.67,0.52,0.39,0.29,0.15,0.08,0.055,0.06,0.075,0.09,0.11,0.13,0.15,0.165,0.185],
 [1.02,1.04,1.07,1.1,1.12,1.14,1.16,1.18,1.17,1.12,1.01,0.87,0.71,0.56,0.43,0.33,0.19,0.12,0.1,0.1,0.11,0.12,0.135,0.15,0.16,0.17,0.18],
 [1.02,1.04,1.07,1.1,1.12,1.14,1.16,1.17,1.15,1.08,0.96,0.82,0.68,0.55,0.44,0.35,0.23,0.16,0.135,0.13,0.13,0.135,0.14,0.15,0.16,0.17,0.18],
 [1.02,1.05,1.08,1.11,1.13,1.15,1.165,1.17,1.13,1.04,0.91,0.77,0.63,0.51,0.41,0.34,0.25,0.2,0.17,0.16,0.16,0.16,0.165,0.17,0.175,0.18,0.19],
 [1.02,1.05,1.08,1.11,1.14,1.155,1.16,1.15,1.08,0.96,0.81,0.65,0.51,0.4,0.32,0.26,0.2,0.17,0.155,0.15,0.15,0.155,0.16,0.165,0.17,0.175,0.18],
 [1.02,1.04,1.07,1.1,1.13,1.15,1.17,1.19,1.19,1.15,1.06,0.94,0.8,0.66,0.53,0.42,0.27,0.18,0.14,0.13,0.135,0.14,0.15,0.16,0.17,0.18,0.19],
 [1.02,1.04,1.07,1.1,1.12,1.14,1.16,1.18,1.16,1.1,1.0,0.88,0.75,0.63,0.52,0.43,0.31,0.24,0.2,0.18,0.17,0.165,0.165,0.17,0.175,0.18,0.19],
 [1.02,1.015,1.01,1.0,0.99,0.975,0.96,0.92,0.88,0.83,0.78,0.73,0.68,0.63,0.59,0.55,0.47,0.41,0.37,0.35,0.34,0.335,0.33,0.325,0.32,0.315,0.31],
 [1.02,1.04,1.06,1.08,1.1,1.11,1.12,1.12,1.08,1.0,0.9,0.79,0.68,0.59,0.51,0.45,0.37,0.31,0.27,0.245,0.23,0.22,0.21,0.205,0.2,0.2,0.2],
 [1.02,1.05,1.08,1.11,1.14,1.16,1.17,1.16,1.07,0.9,0.72,0.56,0.44,0.35,0.28,0.23,0.17,0.14,0.125,0.12,0.12,0.12,0.125,0.13,0.14,0.15,0.16]
];

// ---------- ticks / labels ----------
const legendText = {nm: 'Not Matched (colored)', mb: 'Matched (black)'};
const xTicksS = [0,2,4,6,8,10];
const xTicksG = [0,2,4,6,8,10,12,14,16];

const FONT = 'DejaVu Sans';
const grids = [
  {left:65, right:14, top:7, height:336},
  {left:65, right:14, top:414, height:334},
  {left:65, right:14, top:817, height:336}
];

function lineSeries(xs, ys, gi, color, width, z) {
  return {type:'line', xAxisIndex:gi, yAxisIndex:gi, data: xs.map((x,i)=>[x, ys[i]]),
    smooth:0.35, symbol:'none', showSymbol:false, silent:true, z:z, animation:false,
    lineStyle:{color:color, width:width}, itemStyle:{color:color}, emphasis:{disabled:true}};
}
const series = [];
sColored.forEach((ys,i)=>series.push(lineSeries(xS, ys, 0, palette[sColoredColor[i]], 1, 2)));
sBlack.forEach(ys=>series.push(lineSeries(xS, ys, 0, '#000', 1.3, 3)));
imColored.forEach((ys,i)=>series.push(lineSeries(xI, ys, 1, palette[imColoredColor[i % imColoredColor.length]], 1, 2)));
imBlack.forEach(ys=>series.push(lineSeries(xI, ys, 1, '#000', 1.1, 3)));
reColored.forEach((ys,i)=>series.push(lineSeries(xR, ys, 2, palette[reColoredColor[i % reColoredColor.length]], 1, 2)));
reBlack.forEach(ys=>series.push(lineSeries(xR, ys, 2, '#000', 1.1, 3)));

const legColors = [['#ff4d4d','#666666'],['#ff4d4d','#000000'],['#ff4d4d','#666666']];
const legTops = [17, 422, 826];
const legends = [];
[0,1,2].forEach(g=>{
  series.push({type:'line', name:'nm'+g, xAxisIndex:g, yAxisIndex:g, data:[], symbol:'none',
    lineStyle:{color:legColors[g][0]}, itemStyle:{color:legColors[g][0]}, color:legColors[g][0]});
  series.push({type:'line', name:'mb'+g, xAxisIndex:g, yAxisIndex:g, data:[], symbol:'none',
    lineStyle:{color:legColors[g][1]}, itemStyle:{color:legColors[g][1]}, color:legColors[g][1]});
  legends.push({data:['nm'+g,'mb'+g], orient:'vertical', left:298, top:legTops[g], icon:'rect',
    itemWidth:34, itemHeight:1.5, itemGap:5, padding:[4,7,6,6], selectedMode:false,
    backgroundColor:'rgba(255,255,255,0.8)', borderColor:'#cccccc', borderWidth:1, borderRadius:4,
    formatter: n => legendText[n.slice(0,2)],
    textStyle:{fontFamily:FONT, fontSize:17, lineHeight:20, color:'#000', padding:[0,0,0,9]}});
});

const rich = {
  i:{fontFamily:FONT, fontStyle:'italic', fontSize:16, color:'#000', lineHeight:20},
  n:{fontFamily:FONT, fontSize:16, color:'#000', lineHeight:20},
  s:{fontFamily:FONT, fontStyle:'italic', fontSize:11, color:'#000', lineHeight:20, verticalAlign:'bottom', padding:[6,0,0,0]}
};
function xAxis(g, max, ticks, name) {
  return {gridIndex:g, type:'value', min:0, max:max, interval:2,
    axisLine:{show:true, onZero:false, lineStyle:{color:'#444', width:1}},
    axisTick:{show:true, length:4, lineStyle:{color:'#444'}},
    axisLabel:{fontFamily:FONT, fontSize:16, color:'#000', margin:5,
      formatter: v => ticks.indexOf(v) >= 0 ? String(v) : ''},
    splitLine:{show:false},
    name: name || '', nameLocation:'middle', nameGap:20, nameTextStyle:{rich:rich}};
}
function yAxis(g, max, interval, name) {
  return {gridIndex:g, type:'value', min:0, max:max, interval:interval,
    axisLine:{show:true, onZero:false, lineStyle:{color:'#444', width:1}},
    axisTick:{show:true, length:4, lineStyle:{color:'#444'}},
    axisLabel:{fontFamily:FONT, fontSize:16, color:'#000', margin:5,
      formatter: v => (Math.abs(v/interval - Math.round(v/interval)) < 1e-6) ? v.toFixed(1) : ''},
    splitLine:{show:false},
    name:name, nameLocation:'middle', nameRotate:90, nameGap:29, nameTextStyle:{rich:rich}};
}

const chart = echarts.init(document.getElementById('c'), null, {renderer:'canvas'});
chart.setOption({
  animation:false,
  backgroundColor:'#fff',
  grid: grids.map(g=>Object.assign({show:true, borderColor:'#444', borderWidth:1, backgroundColor:'transparent',
    containLabel:false, outerBoundsMode:'none'}, g)),
  xAxis:[xAxis(0,10,xTicksS), xAxis(1,17.5,xTicksG), xAxis(2,17.5,xTicksG,'{i|ω}{n|/}{i|ω}{s|P}')],
  yAxis:[yAxis(0,2.763,0.5,'{i|S}{n| ∗ }{i|ω}{s|P}'), yAxis(1,0.9,0.1,'{n|Im }{i|G}'), yAxis(2,1.4,0.2,'{n|Re }{i|G}')],
  legend: legends,
  series: series
});
</script></body></html>
